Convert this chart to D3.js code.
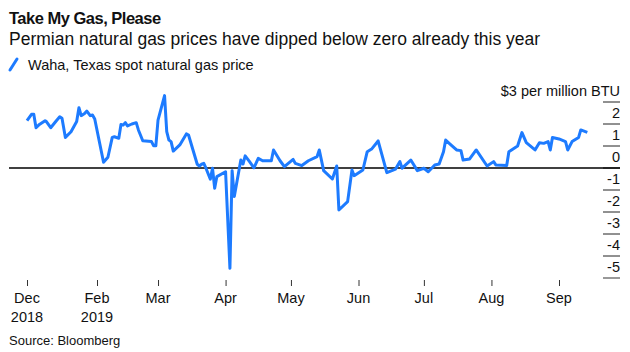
<!DOCTYPE html>
<html lang="en">
<head>
    <meta charset="UTF-8">
    <title>Take My Gas, Please</title>
    <style>
        body {
            margin: 0;
            background: #fff;
            font-family: "Liberation Sans", Arial, sans-serif;
        }
        svg text {
            fill: #111;
        }
        .title {
            font-size: 16.5px;
            font-weight: bold;
            letter-spacing: -0.5px;
        }
        .subtitle {
            font-size: 17.5px;
        }
        .legend, .unit, .ytick, .xtick {
            font-size: 14.5px;
        }
        .source {
            font-size: 13px;
        }
    </style>
</head>
<body>
    <div id="chart"></div>

    <script src="https://d3js.org/d3.v7.min.js"></script>
    <script>
        // Waha, Texas spot natural gas price, $ per million BTU
        const dates = [
            '2018-12-01', '2018-12-05', '2018-12-07', '2018-12-09', '2018-12-12', '2018-12-17',
            '2018-12-18', '2018-12-22', '2018-12-27', '2018-12-30', '2019-01-01', '2019-01-04',
            '2019-01-09', '2019-01-14', '2019-01-16', '2019-01-18', '2019-01-21', '2019-01-23',
            '2019-01-26', '2019-01-28', '2019-01-30',
            '2019-02-04', '2019-02-06', '2019-02-08', '2019-02-09', '2019-02-11', '2019-02-12',
            '2019-02-13', '2019-02-14', '2019-02-15', '2019-02-17', '2019-02-19', '2019-02-20',
            '2019-02-22', '2019-02-26', '2019-02-27', '2019-02-28',
            '2019-03-01', '2019-03-04', '2019-03-05', '2019-03-06', '2019-03-07', '2019-03-08',
            '2019-03-11', '2019-03-14', '2019-03-15', '2019-03-19', '2019-03-20', '2019-03-21',
            '2019-03-22', '2019-03-23', '2019-03-25', '2019-03-26', '2019-03-27', '2019-03-28',
            '2019-04-01', '2019-04-03', '2019-04-04', '2019-04-05', '2019-04-08', '2019-04-09',
            '2019-04-10', '2019-04-12', '2019-04-14', '2019-04-16', '2019-04-18', '2019-04-22',
            '2019-04-23', '2019-04-26', '2019-04-28',
            '2019-05-02', '2019-05-03', '2019-05-06', '2019-05-09', '2019-05-13', '2019-05-14',
            '2019-05-16', '2019-05-20', '2019-05-22', '2019-05-23', '2019-05-27', '2019-05-29',
            '2019-05-30',
            '2019-06-03', '2019-06-05', '2019-06-07', '2019-06-10', '2019-06-14', '2019-06-18',
            '2019-06-20', '2019-06-21', '2019-06-25', '2019-06-28',
            '2019-07-01', '2019-07-03', '2019-07-06', '2019-07-08', '2019-07-10', '2019-07-11',
            '2019-07-13', '2019-07-16', '2019-07-18', '2019-07-19', '2019-07-22', '2019-07-25',
            '2019-07-30',
            '2019-08-02', '2019-08-03', '2019-08-08', '2019-08-09', '2019-08-13', '2019-08-15',
            '2019-08-17', '2019-08-21', '2019-08-23', '2019-08-25', '2019-08-27', '2019-08-28',
            '2019-08-29',
            '2019-09-01', '2019-09-04', '2019-09-05', '2019-09-07', '2019-09-10', '2019-09-11',
            '2019-09-14'
        ];
        const prices = [
            2.15, 2.44, 2.44, 1.83, 1.98, 2.15,
            2.12, 1.83, 2.15, 2.33, 2.26, 1.39,
            1.65, 2.11, 2.74, 2.38, 2.48, 2.59,
            2.38, 2.41, 2.23,
            0.26, 0.49, 1.39, 1.42, 1.35, 1.98,
            1.95, 2.06, 1.91, 2.00, 2.06, 1.73,
            1.24, 1.20, 1.01, 1.01,
            2.18, 3.29, 1.65, 1.27, 1.20, 0.77,
            1.05, 1.55, 1.50, 0.17, 0.09, 0.17,
            0.21, -0.01, -0.51, -0.01, -0.92, -0.39,
            -0.17, -4.56, -0.12, -1.30, 0.36, 0.18,
            0.55, 0.29, 0.01, 0.44, 0.33, 0.33,
            0.82, 0.33, 0.06,
            0.39, 0.21, 0.11, 0.33, 0.52, 0.82,
            -0.12, -0.50, 0.09, -1.91, -1.53, -0.09,
            -0.35,
            -0.09, 0.74, 0.86, 1.23, -0.21, -0.05,
            0.29, -0.01, 0.36, -0.12,
            -0.01, -0.17, 0.14, 0.18, 0.74, 1.27,
            1.09, 0.82, 0.79, 0.36, 0.41, 0.82,
            0.09,
            0.29, 0.14, 0.11, 0.74, 1.00, 1.61,
            1.15, 0.82, 1.15, 1.12, 1.20, 0.82,
            1.39,
            1.32, 1.20, 0.82, 1.20, 1.39, 1.73,
            1.62
        ];

        const xTickDates = ['2018-12-01', '2019-02-01', '2019-03-01', '2019-04-01', '2019-05-01',
                            '2019-06-01', '2019-07-01', '2019-08-01', '2019-09-01'];
        const xTickLabels = [['Dec', '2018'], ['Feb', '2019'], ['Mar'], ['Apr'], ['May'],
                             ['Jun'], ['Jul'], ['Aug'], ['Sep']];
        const yTicks = [3, 2, 1, 0, -1, -2, -3, -4, -5];
        const yTickLabels = ['$3 per million BTU', '2', '1', '0', '-1', '-2', '-3', '-4', '-5'];

        const width = 630;
        const height = 352;
        const parse = d3.timeParse('%Y-%m-%d');

        const data = dates.map((d, i) => ({ date: parse(d), value: prices[i] }));

        const svg = d3.select('#chart')
            .append('svg')
            .attr('width', width)
            .attr('height', height);

        // the axis in the original squeezes Dec-Jan, so use a piecewise time scale
        const x = d3.scaleTime()
            .domain([parse('2018-12-01'), parse('2019-02-01'), parse('2019-09-01')])
            .range([27, 97, 559]);

        const y = d3.scaleLinear()
            .domain([-5, 3])
            .range([278, 102]);

        // headings
        svg.append('text').attr('class', 'title').attr('x', 9).attr('y', 24)
            .text('Take My Gas, Please');
        svg.append('text').attr('class', 'subtitle').attr('x', 9).attr('y', 45)
            .text('Permian natural gas prices have dipped below zero already this year');

        // legend
        svg.append('line')
            .attr('x1', 10).attr('y1', 70).attr('x2', 17).attr('y2', 59)
            .attr('stroke', '#1d7bff').attr('stroke-width', 3).attr('stroke-linecap', 'round');
        svg.append('text').attr('class', 'legend').attr('x', 28).attr('y', 70)
            .text('Waha, Texas spot natural gas price');

        // right axis: short dashes with labels sitting above them
        const yAxis = svg.append('g').attr('class', 'y-axis');
        yAxis.selectAll('line')
            .data(yTicks)
            .enter().append('line')
            .attr('x1', 603).attr('x2', 620)
            .attr('y1', d => y(d)).attr('y2', d => y(d))
            .attr('stroke', d => d === -5 ? '#999' : '#222')
            .attr('stroke-width', d => d === -5 ? 2 : 1);
        yAxis.selectAll('text')
            .data(yTicks)
            .enter().append('text')
            .attr('class', d => d === 3 ? 'unit' : 'ytick')
            .attr('x', 620)
            .attr('y', d => y(d) - 6)
            .attr('text-anchor', 'end')
            .text((d, i) => yTickLabels[i]);

        // zero line
        svg.append('line')
            .attr('x1', 9).attr('x2', 620)
            .attr('y1', y(0)).attr('y2', y(0))
            .attr('stroke', '#000').attr('stroke-width', 1.5);

        // bottom axis
        const xAxis = svg.append('g')
            .attr('transform', 'translate(0,280)')
            .call(d3.axisBottom(x)
                .tickValues(xTickDates.map(parse))
                .tickSize(6)
                .tickFormat(''));
        xAxis.select('.domain').remove();
        xAxis.selectAll('.tick line').attr('stroke', '#333');

        const xLabels = svg.append('g');
        xTickDates.forEach((d, i) => {
            const t = xLabels.append('text')
                .attr('class', 'xtick')
                .attr('text-anchor', 'middle')
                .attr('x', x(parse(d)))
                .attr('y', 303);
            xTickLabels[i].forEach((s, j) => {
                t.append('tspan')
                    .attr('x', x(parse(d)))
                    .attr('dy', j === 0 ? 0 : 19)
                    .text(s);
            });
        });

        // price line
        const line = d3.line()
            .x(d => x(d.date))
            .y(d => y(d.value));

        svg.append('path')
            .datum(data)
            .attr('fill', 'none')
            .attr('stroke', '#1d7bff')
            .attr('stroke-width', 3)
            .attr('stroke-linejoin', 'round')
            .attr('d', line);

        svg.append('text').attr('class', 'source').attr('x', 9).attr('y', 345)
            .text('Source: Bloomberg');
    </script>
</body>
</html>
